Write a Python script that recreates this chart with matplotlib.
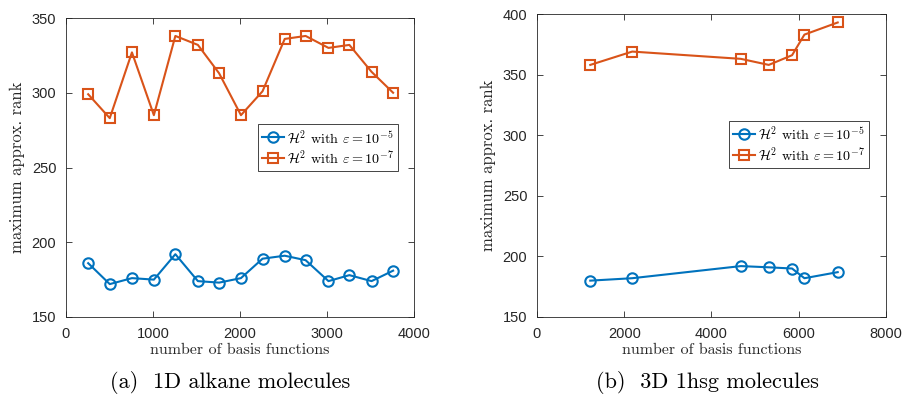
import numpy as np
import matplotlib.pyplot as plt

# (a) 1D alkane molecules
alk_n = [255, 503, 758, 1010, 1257, 1516, 1760, 2011, 2259, 2514, 2754, 3017, 3257, 3512, 3760]
alk_r5 = [186, 172, 176, 175, 192, 174, 173, 176, 189, 191, 188, 174, 178, 174, 181]
alk_r7 = [299, 283, 327, 285, 338, 332, 313, 285, 301, 336, 338, 330, 332, 314, 300]

# (b) 3D 1hsg molecules
hsg_n = [1221, 2183, 4672, 5313, 5847, 6130, 6893]
hsg_r5 = [180, 182, 192, 191, 190, 182, 187]
hsg_r7 = [358, 369, 363, 358, 366, 383, 393]

plt.rcParams["mathtext.fontset"] = "cm"
plt.rcParams["axes.unicode_minus"] = False

blue = "#0072BD"
orange = "#D95319"
serif = "cmr10"
sans = "Liberation Sans"

fig = plt.figure(figsize=(9.04, 3.95), dpi=100)
ax1 = fig.add_axes([66 / 904, 78 / 395, 348 / 904, 299 / 395])
ax2 = fig.add_axes([537 / 904, 78 / 395, 349 / 904, 303 / 395])

panels = [
    (ax1, alk_n, alk_r5, alk_r7, (0, 4000), [0, 1000, 2000, 3000, 4000],
     (150, 350), [150, 200, 250, 300, 350], (0.954, 0.645)),
    (ax2, hsg_n, hsg_r5, hsg_r7, (0, 8000), [0, 2000, 4000, 6000, 8000],
     (150, 400), [150, 200, 250, 300, 350, 400], (0.951, 0.647)),
]

for ax, n, r5, r7, xl, xt, yl, yt, anchor in panels:
    ax.plot(n, r5, "-o", color=blue, lw=1.5, ms=7.5, mfc="none", mew=1.5,
            label=r"$\mathcal{H}^2$ with $\varepsilon=10^{-5}$")
    ax.plot(n, r7, "-s", color=orange, lw=1.5, ms=7, mfc="none", mew=1.5,
            label=r"$\mathcal{H}^2$ with $\varepsilon=10^{-7}$")
    ax.set_xlim(*xl)
    ax.set_ylim(*yl)
    ax.set_xticks(xt)
    ax.set_yticks(yt)
    ax.tick_params(direction="in", top=True, right=True, length=4,
                   width=0.6, labelsize=10.5, colors="#262626")
    ax.tick_params(axis="x", pad=7)
    ax.tick_params(axis="y", pad=7)
    for lab in ax.get_xticklabels() + ax.get_yticklabels():
        lab.set_fontfamily(sans)
    for sp in ax.spines.values():
        sp.set_color("#262626")
        sp.set_linewidth(0.6)
    ax.set_xlabel("number of basis functions", fontfamily=serif, fontsize=11.5,
                  color="#262626", labelpad=2)
    ax.set_ylabel("maximum approx. rank", fontfamily=serif, fontsize=12,
                  color="#262626", labelpad=5)
    leg = ax.legend(loc="upper right", bbox_to_anchor=anchor, borderaxespad=0,
                    fancybox=False, framealpha=1, edgecolor="#262626",
                    prop={"family": serif, "size": 10.2}, handlelength=1.6,
                    handletextpad=0.2, borderpad=0.25, labelspacing=0.2)
    leg.get_frame().set_linewidth(0.6)

fig.text(230 / 904, 1 - 382 / 395, "(a)  1D alkane molecules", ha="center",
         va="center", fontfamily=serif, fontsize=16)
fig.text(707 / 904, 1 - 382 / 395, "(b)  3D 1hsg molecules", ha="center",
         va="center", fontfamily=serif, fontsize=16)

fig.savefig("out.png", dpi=100)
